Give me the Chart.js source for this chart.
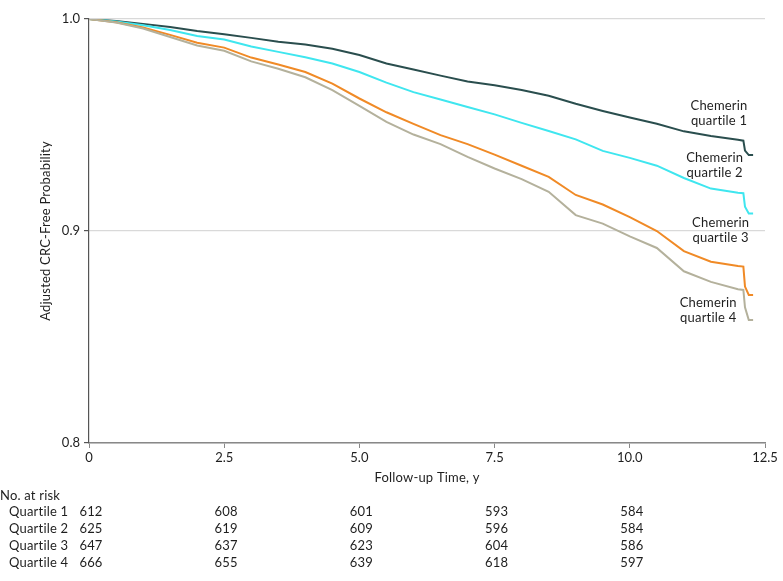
<!DOCTYPE html>
<html>
<head>
<meta charset="utf-8">
<title>Adjusted CRC-free probability by chemerin quartile</title>
<script src="https://cdn.jsdelivr.net/npm/chart.js@4.4.1/dist/chart.umd.min.js"></script>
<style>
  html, body { margin: 0; padding: 0; background: #fff; }
  #wrap { position: relative; width: 783px; height: 581px; }
</style>
</head>
<body>
<div id="wrap"><canvas id="kmChart"></canvas></div>
<script>
// --- data ---
const times = [0, 0.5, 1.0, 1.5, 2.0, 2.5, 3.0, 3.5, 4.0, 4.5, 5.0, 5.5, 6.0, 6.5, 7.0, 7.5, 8.0, 8.5, 9.0, 9.5, 10.0, 10.5, 11.0, 11.5, 12.0, 12.1, 12.13, 12.2, 12.28];

const quartile1 = [1.000, 0.9990, 0.9977, 0.9962, 0.9943, 0.9928, 0.9911, 0.9893, 0.9880, 0.9860, 0.9830, 0.9790, 0.9762, 0.9733, 0.9705, 0.9688, 0.9665, 0.9638, 0.9600, 0.9566, 0.9535, 0.9506, 0.9470, 0.9448, 0.9430, 0.9426, 0.9379, 0.9358, 0.9358];
const quartile2 = [1.000, 0.9988, 0.9970, 0.9948, 0.9920, 0.9903, 0.9870, 0.9845, 0.9820, 0.9790, 0.9750, 0.9700, 0.9655, 0.9620, 0.9585, 0.9550, 0.9510, 0.9472, 0.9432, 0.9378, 0.9345, 0.9308, 0.9250, 0.9200, 0.9180, 0.9178, 0.9115, 0.9083, 0.9083];
const quartile3 = [1.000, 0.9985, 0.9960, 0.9925, 0.9888, 0.9865, 0.9818, 0.9785, 0.9750, 0.9695, 0.9625, 0.9560, 0.9505, 0.9452, 0.9410, 0.9360, 0.9308, 0.9255, 0.9170, 0.9125, 0.9065, 0.9000, 0.8905, 0.8855, 0.8835, 0.8832, 0.8738, 0.8698, 0.8698];
const quartile4 = [1.000, 0.9983, 0.9955, 0.9915, 0.9875, 0.9850, 0.9800, 0.9765, 0.9725, 0.9665, 0.9590, 0.9515, 0.9455, 0.9410, 0.9350, 0.9295, 0.9245, 0.9185, 0.9075, 0.9035, 0.8975, 0.8920, 0.8810, 0.8760, 0.8725, 0.8722, 0.8640, 0.8580, 0.8580];

const xTickLabels = ['0', '2.5', '5.0', '7.5', '10.0', '12.5'];
const yTickLabels = ['0.8', '0.9', '1.0'];

const riskTimes = [0, 2.5, 5.0, 7.5, 10.0];
const riskLabels = ['Quartile 1', 'Quartile 2', 'Quartile 3', 'Quartile 4'];
const riskQ1 = [612, 608, 601, 593, 584];
const riskQ2 = [625, 619, 609, 596, 584];
const riskQ3 = [647, 637, 623, 604, 586];
const riskQ4 = [666, 655, 639, 618, 597];

const seriesNames = ['Chemerin quartile 1', 'Chemerin quartile 2', 'Chemerin quartile 3', 'Chemerin quartile 4'];
const seriesColors = ['#2a4e4e', '#3fe6ef', '#f08a26', '#b4b19c'];

// --- label placement (data coords of the text centre) ---
const curveLabels = [
  { x: 11.65, y: 0.9553, lines: ['Chemerin', 'quartile 1'] },
  { x: 11.57, y: 0.9311, lines: ['Chemerin', 'quartile 2'] },
  { x: 11.68, y: 0.9002, lines: ['Chemerin', 'quartile 3'] },
  { x: 11.45, y: 0.8625, lines: ['Chemerin', 'quartile 4'] }
];

const FONT = 'Lato, "Noto Sans", sans-serif';
const TEXT = '#1e1e1e';

function toPoints(values) {
  return values.map((v, i) => ({ x: times[i], y: v }));
}

const allSeries = [quartile1, quartile2, quartile3, quartile4];

const datasets = allSeries.map((vals, i) => ({
  label: seriesNames[i],
  data: toPoints(vals),
  borderColor: seriesColors[i],
  borderWidth: 2,
  pointRadius: 0,
  fill: false,
  tension: 0,
  order: 4 - i
}));

// draws titles, curve labels and the numbers-at-risk table
const extraText = {
  id: 'extraText',
  afterDraw(chart) {
    const ctx = chart.ctx;
    const xs = chart.scales.x;
    const ys = chart.scales.y;
    const area = chart.chartArea;
    ctx.save();
    ctx.fillStyle = TEXT;
    ctx.letterSpacing = '0.2px'; // stops the "ti" ligature

    // y title
    ctx.font = '13px ' + FONT;
    ctx.textAlign = 'center';
    ctx.textBaseline = 'middle';
    ctx.save();
    ctx.translate(46, (area.top + area.bottom) / 2);
    ctx.rotate(-Math.PI / 2);
    ctx.fillText('Adjusted CRC-Free Probability', 0, 0);
    ctx.restore();

    // x title
    ctx.fillText('Follow-up Time, y', (area.left + area.right) / 2, 478);

    // curve labels
    curveLabels.forEach(lb => {
      const cx = xs.getPixelForValue(lb.x);
      const cy = ys.getPixelForValue(lb.y);
      ctx.fillText(lb.lines[0], cx, cy - 7.5);
      ctx.fillText(lb.lines[1], cx, cy + 7.5);
    });

    // numbers at risk
    ctx.textAlign = 'left';
    ctx.fillText('No. at risk', 0, 496);
    const rows = [riskQ1, riskQ2, riskQ3, riskQ4];
    rows.forEach((row, r) => {
      const y = 512 + r * 17;
      ctx.textAlign = 'left';
      ctx.fillText(riskLabels[r], 9, y);
      ctx.textAlign = 'center';
      row.forEach((n, k) => {
        ctx.fillText(String(n), xs.getPixelForValue(riskTimes[k]) + 2, y);
      });
    });
    ctx.restore();
  }
};

new Chart(document.getElementById('kmChart'), {
  type: 'line',
  data: { datasets: datasets },
  options: {
    responsive: true,
    maintainAspectRatio: false,
    animation: false,
    layout: { padding: { top: 19, right: 18, bottom: 0, left: 0 } },
    plugins: {
      legend: { display: false },
      title: { display: false },
      tooltip: { enabled: false }
    },
    scales: {
      x: {
        type: 'linear',
        min: 0,
        max: 12.5,
        afterBuildTicks(scale) {
          scale.ticks = xTickLabels.map(t => ({ value: parseFloat(t) }));
        },
        afterFit(scale) { scale.height = 138; },
        border: { color: '#888', width: 1.5 },
        grid: { drawOnChartArea: false, drawTicks: true, tickLength: 5, color: '#888' },
        ticks: {
          color: TEXT,
          padding: 2,
          maxRotation: 0,
          font: { family: FONT, size: 13 },
          callback: (v, i) => xTickLabels[i]
        }
      },
      y: {
        min: 0.8,
        max: 1.0,
        afterBuildTicks(scale) {
          scale.ticks = yTickLabels.map(t => ({ value: parseFloat(t) }));
        },
        afterFit(scale) { scale.width = 89; },
        border: { color: '#555', width: 1.2 },
        grid: { color: '#d9d9d9', lineWidth: 1.2, tickColor: '#555', tickLength: 5 },
        ticks: {
          color: TEXT,
          padding: 4,
          font: { family: FONT, size: 13 },
          callback: (v, i) => yTickLabels[i]
        }
      }
    }
  },
  plugins: [extraText]
});
</script>
</body>
</html>
